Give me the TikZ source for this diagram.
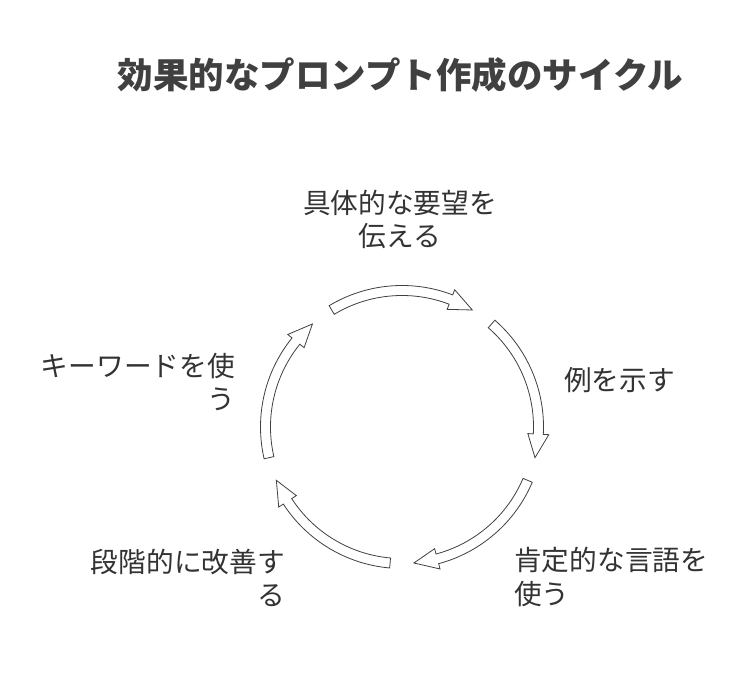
\documentclass[tikz,border=0pt]{standalone}
\usepackage{fontspec}
\newfontfamily\cjk{Noto Sans CJK JP}
\begin{document}
\begin{tikzpicture}[x=1pt,y=1pt,
  arr/.style={draw=black!75, line width=0.8pt, fill=white, line join=miter},
  lbl/.style={inner sep=0pt, text=black!80, font=\cjk\fontsize{27.7}{33.5}\selectfont},
  ttl/.style={inner sep=0pt, text=black!75, font=\cjk\bfseries\fontsize{35.5}{40}\selectfont}]
\useasboundingbox[fill=white] (0,0) rectangle (750,682);
\node[ttl] (title) at (400.5,607) {効果的なプロンプト作成のサイクル};
\foreach \a in {90,18,-54,-126,-198}{
  \pgfmathsetmacro\t{\a+31}
  \pgfmathsetmacro\b{\a-31+10}
  \pgfmathsetmacro\e{\a-31}
  \draw[arr,shift={(402,255)}] (\t:141.5) arc[start angle=\t, end angle=\b, radius=141.5] -- (\b:147) -- (\e:136.5) -- (\b:126) -- (\b:131.5) arc[start angle=\b, end angle=\t, radius=131.5] -- cycle;
}
\node[lbl, align=center] (l1) at (400,462.5) {具体的な要望を\\伝える};
\node[lbl, anchor=west] (l2) at (564,302) {例を示す};
\node[lbl, anchor=west, align=left] (l3) at (514,105) {肯定的な言語を\\使う};
\node[lbl, anchor=east, align=right] (l4) at (285,104) {段階的に改善す\\る};
\node[lbl, anchor=east, align=right] (l5) at (235,300) {キーワードを使\\う};
\end{tikzpicture}
\end{document}
